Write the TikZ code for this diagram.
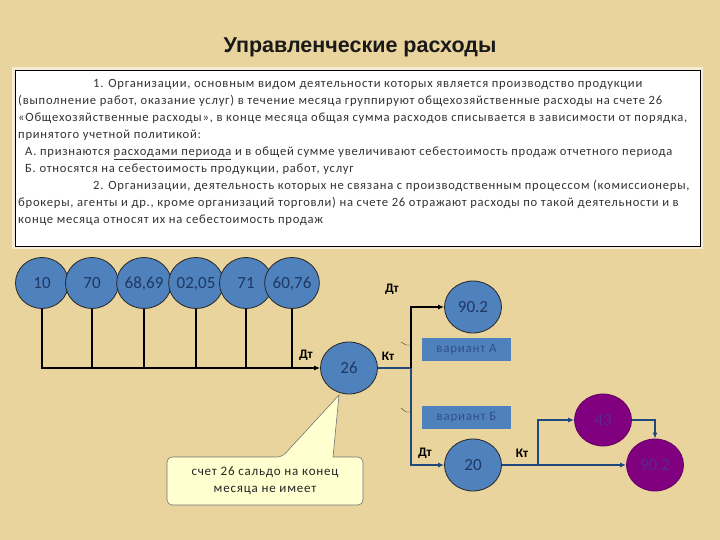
\documentclass[tikz,border=0pt]{standalone}
\usepackage{fontspec}
\setmainfont{Carlito}
\newfontfamily\bodyfont[LetterSpace=6]{Carlito}
\newfontfamily\titlefont{Liberation Sans}
\usetikzlibrary{arrows.meta}
\usetikzlibrary{shapes.geometric}

\definecolor{paper}{RGB}{233,212,158}
\definecolor{accblue}{RGB}{79,129,189}
\definecolor{accnavy}{RGB}{31,56,100}
\definecolor{linknavy}{RGB}{31,73,125}
\definecolor{accpurple}{RGB}{128,0,128}
\definecolor{purpletext}{RGB}{88,40,140}
\definecolor{varianttext}{RGB}{50,80,140}
\definecolor{notefill}{RGB}{255,255,208}

\tikzset{
    acc/.style={ellipse, draw=black!85, line width=0.8pt, fill=accblue, inner sep=0pt,
        minimum width=53pt, minimum height=51pt, text=accnavy, text height=11.5pt, text depth=0.5pt,
        font=\fontsize{17}{17}\selectfont},
    accB/.style={acc, minimum width=57pt, minimum height=52pt},
    accP/.style={accB, fill=accpurple, draw=accpurple!80!black, text=purpletext},
    variant/.style={fill=accblue, minimum width=89pt, minimum height=23pt, inner sep=0pt,
        text=varianttext, font=\bodyfont\fontsize{13}{13}\selectfont},
    side/.style={font=\bfseries\fontsize{13}{13}\selectfont, inner sep=0pt},
    link/.style={draw=linknavy, line width=1.2pt},
    linkB/.style={draw=black, line width=1.2pt},
    tip/.style={-{Latex[length=6pt,width=5pt]}}
}

\begin{document}
\begin{tikzpicture}[x=1pt, y=-1pt]
    \useasboundingbox (0,0) rectangle (720,540);
    \fill[paper] (0,0) rectangle (720,540);
    \node[font=\titlefont\bfseries\fontsize{21.5}{21.5}\selectfont, text=black!90] (title) at (360,47) {Управленческие расходы};
    % text box
    \draw[white!55!paper, line width=6pt] (15,70) rectangle (700,246);
    \node[draw, fill=white, line width=1pt, anchor=north west, inner sep=0pt,
        minimum width=685pt, minimum height=176pt] (box) at (15,70) {};
    \node[anchor=north west, align=left, inner sep=0pt,
        font=\bodyfont\fontsize{12.6}{17}\selectfont, text=black!80] (txt) at (18,79) {%
        \hspace*{75pt}1. Организации, основным видом деятельности которых является производство продукции\\
        (выполнение работ, оказание услуг) в течение месяца группируют общехозяйственные расходы на счете 26\\
        «Общехозяйственные расходы», в конце месяца общая сумма расходов списывается в зависимости от порядка,\\
        принятого учетной политикой:\\
        \hspace*{7pt}А. признаются \underline{расходами периода} и в общей сумме увеличивают себестоимость продаж отчетного периода\\
        \hspace*{7pt}Б. относятся на себестоимость продукции, работ, услуг\\
        \hspace*{75pt}2. Организации, деятельность которых не связана с производственным процессом (комиссионеры,\\
        брокеры, агенты и др., кроме организаций торговли) на счете 26 отражают расходы по такой деятельности и в\\
        конце месяца относят их на себестоимость продаж};
    % accounts on the debit side of 26
    \foreach \s/\x/\t in {1/42/10, 2/92/70, 3/144/{68,69}, 4/196/{02,05}, 5/246/71, 6/292/{60,76}}
        \node[acc] (a\s) at (\x,283) {\t};
    \node[accB] (n26) at (349,368) {26};
    \node[accB] (n90a) at (473,307) {90.2};
    \node[accB] (n20) at (473,465) {20};
    \node[accP] (n43) at (603,420) {43};
    \node[accP] (n90b) at (655,465) {90.2};
    \coordinate (j1) at (411,368);
    \coordinate (j2) at (538,465);
    \draw[linkB, tip] (a1.south) |- (n26.west);
    \foreach \s in {2,...,6}
        \draw[linkB] (a\s.south) -- (a\s.south |- n26.west);
    \draw[link] (n26.east) -- (j1);
    \draw[linkB, tip] (j1) |- (n90a.west);
    \draw[link, tip] (j1) |- (n20.west);
    \draw[link, tip] (n20.east) -- (n90b.west);
    \draw[link, tip] (j2) |- (n43.west);
    \draw[link, tip] (n43.east) -| (n90b.north);
    \draw[black!80, thin] (401,342) -- (406,345) -- (410,345);
    \draw[black!80, thin] (401,408) -- (406,412) -- (410,412);
    \node[side] (d1) at (306,355) {Дт};
    \node[side] (k1) at (388,356) {Кт};
    \node[side] (d2) at (392,289) {Дт};
    \node[side] (d3) at (425,453) {Дт};
    \node[side] (k2) at (522,453) {Кт};
    \node[variant] (va) at (466.5,349.5) {вариант А};
    \node[variant] (vb) at (466.5,417.5) {вариант Б};
    % callout
    \draw[draw=black!55, fill=notefill, line width=0.6pt]
        (167,481) [rounded corners=5pt] -- (167,457) -- (282,457) [sharp corners] -- (339,395)
        -- (333,457) [rounded corners=5pt] -- (363,457) -- (363,505) -- (167,505) -- (167,481);
    \node[align=center, inner sep=0pt, font=\bodyfont\fontsize{13}{17}\selectfont, text=black!85] (note) at (265,481)
        {счет 26 сальдо на конец\\месяца не имеет};
\end{tikzpicture}
\end{document}
